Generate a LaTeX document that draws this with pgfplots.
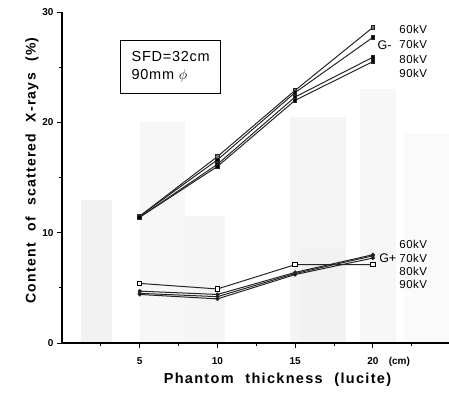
\documentclass[border=0pt]{standalone}
\usepackage{fontspec}
\setmainfont{Liberation Sans}
\newfontfamily\spacedfont{Liberation Sans}[LetterSpace=9,WordSpace=2.2]
\usepackage{pgfplots}
\pgfplotsset{compat=1.18}

% G- (upper) and G+ (lower) series: phantom thickness (cm) vs scattered content (%)
\pgfplotstableread{
x   k60   k70   k80   k90
5   11.5  11.5  11.4  11.4
10  16.9  16.6  16.2  16.0
15  22.9  22.7  22.3  22.0
20  28.6  27.7  25.9  25.5
}\gminus
\pgfplotstableread{
x   k60   k70   k80   k90
5   5.4   4.7   4.5   4.4
10  4.9   4.4   4.2   4.0
15  7.1   6.4   6.3   6.2
20  7.1   8.0   7.9   7.7
}\gplus

\begin{document}
\begin{tikzpicture}[x=1pt,y=1pt]
\path[use as bounding box] (-62,-49) rectangle (387,343);
\begin{axis}[
  scale only axis,
  width=387pt, height=331pt,
  xmin=0, xmax=24.9, ymin=0, ymax=30,
  axis lines=left,
  axis on top,
  axis line style={line width=1.2pt,-},
  xtick={5,10,15,20},
  minor xtick={2.5,7.5,12.5,17.5,22.5},
  ytick={0,10,20,30},
  minor ytick={5,15,25},
  tick align=outside,
  major tick length=5pt,
  minor tick length=3pt,
  every tick/.style={black,line width=0.9pt},
  tick label style={font=\bfseries\fontsize{10}{12}\selectfont},
  /pgf/number format/assume math mode=true,
  xticklabel style={yshift=-6pt},
  xlabel={Phantom thickness (lucite)},
  xlabel style={font=\spacedfont\bfseries\fontsize{14.5}{16}\selectfont, yshift=-2pt, xshift=22pt},
  ylabel={Content of scattered X-rays (\%)},
  ylabel style={font=\spacedfont\bfseries\fontsize{14}{15}\selectfont, yshift=-3pt, xshift=7pt},
  clip=false,
]
% faint show-through panels of the printed page
\fill[black!5] (axis cs:1.2,0) rectangle (axis cs:3.2,13);
\fill[black!3] (axis cs:5.0,0) rectangle (axis cs:7.9,20);
\fill[black!4] (axis cs:7.9,0) rectangle (axis cs:10.5,11.5);
\fill[black!4] (axis cs:14.7,0) rectangle (axis cs:18.3,20.5);
\fill[black!5] (axis cs:15.4,0) rectangle (axis cs:18.3,8.6);
\fill[black!3] (axis cs:19.2,0) rectangle (axis cs:21.5,23);
\fill[black!2] (axis cs:22.0,0) rectangle (axis cs:24.9,19);

% G- series
\addplot[black!85,line width=1pt,mark=square*,mark size=1.8pt,mark options={solid,fill=black!55}] table[x=x,y=k60]{\gminus};
\addplot[black!85,line width=1pt,mark=square*,mark size=1.8pt,mark options={solid,fill=black}] table[x=x,y=k70]{\gminus};
\addplot[black!85,line width=1pt,mark=square*,mark size=1.8pt,mark options={solid,fill=black}] table[x=x,y=k80]{\gminus};
\addplot[black!85,line width=1pt,mark=square*,mark size=1.8pt,mark options={solid,fill=black}] table[x=x,y=k90]{\gminus};

% G+ series
\addplot[black!85,line width=1pt,mark=square*,mark size=2.2pt,mark options={solid,fill=white,draw=black,line width=0.9pt}] table[x=x,y=k60]{\gplus};
\addplot[black!85,line width=1pt,mark=*,mark size=1.5pt,mark options={fill=black}] table[x=x,y=k70]{\gplus};
\addplot[black!85,line width=1pt,mark=*,mark size=1.5pt,mark options={fill=black}] table[x=x,y=k80]{\gplus};
\addplot[black!85,line width=1pt,mark=*,mark size=1.5pt,mark options={fill=black}] table[x=x,y=k90]{\gplus};

% voltage labels
\begin{scope}[every node/.style={font=\fontsize{11.5}{12}\selectfont\addfontfeature{LetterSpace=4}, anchor=west, inner sep=0pt}]
\node at (axis cs:21.7,28.4) {60kV};
\node at (axis cs:21.7,27.1) {70kV};
\node at (axis cs:21.7,25.7) {80kV};
\node at (axis cs:21.7,24.4) {90kV};
\node[font=\fontsize{12.5}{14}\selectfont] at (axis cs:20.3,27.0) {G-};
\node at (axis cs:21.7,8.9) {60kV};
\node at (axis cs:21.7,7.7) {70kV};
\node at (axis cs:21.7,6.5) {80kV};
\node at (axis cs:21.7,5.35) {90kV};
\node[font=\fontsize{12.5}{14}\selectfont] at (axis cs:20.4,7.7) {G+};
\end{scope}
\node[font=\bfseries\fontsize{10}{12}\selectfont, anchor=west] at (axis cs:20.8,-1.75) {(cm)};

% measurement conditions
\node[draw, line width=0.8pt, anchor=north west, align=left, inner xsep=6pt, inner ysep=4pt,
      font=\fontsize{14.5}{18}\selectfont\addfontfeature{LetterSpace=5}, minimum width=100pt, minimum height=53pt]
  at (axis cs:3.75,27.5) {SFD=32cm\\90mm $\phi$};
\end{axis}
\end{tikzpicture}
\end{document}
